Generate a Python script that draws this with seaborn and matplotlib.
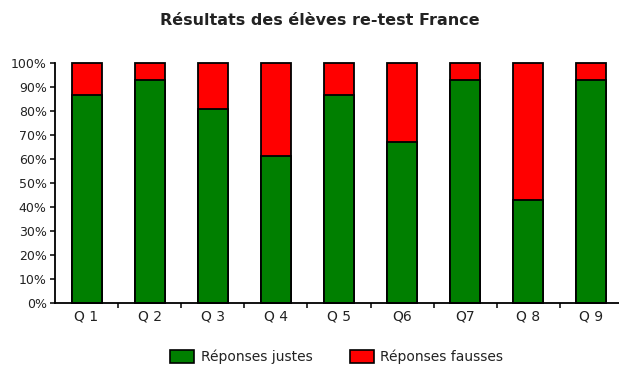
import matplotlib
matplotlib.use("Agg")
import matplotlib.pyplot as plt
from matplotlib.patches import Patch
from matplotlib.ticker import FixedLocator, PercentFormatter
import pandas as pd
import seaborn as sns

# Share of correct / wrong answers per question (%)
questions = ["Q 1", "Q 2", "Q 3", "Q 4", "Q 5", "Q6", "Q7", "Q 8", "Q 9"]
justes = [86.7, 92.9, 80.7, 61.3, 86.7, 67.2, 92.9, 42.9, 92.9]
fausses = [13.3, 7.1, 19.3, 38.7, 13.3, 32.8, 7.1, 57.1, 7.1]

GREEN = "#007F00"
RED = "#FF0000"

sns.set_theme(style="white")
plt.rcParams["font.family"] = ["DejaVu Sans"]
plt.rcParams["text.color"] = "#222222"

df = pd.DataFrame({"question": questions, "justes": justes, "fausses": fausses})
df["total"] = df["justes"] + df["fausses"]

fig = plt.figure(figsize=(6.19, 3.65), dpi=100)
ax = fig.add_axes([55 / 619, 62 / 365, 568 / 619, 240 / 365])

# stacked bars: full height in red, correct share drawn over it in green
sns.barplot(data=df, x="question", y="total", color=RED, width=0.475,
            edgecolor="black", linewidth=1.3, saturation=1, ax=ax)
sns.barplot(data=df, x="question", y="justes", color=GREEN, width=0.475,
            edgecolor="black", linewidth=1.3, saturation=1, ax=ax)
for p in ax.patches:
    p.set_clip_on(False)

ax.set_ylim(0, 100)
ax.set_xlim(-0.5, len(questions) - 0.5)
ax.yaxis.set_major_locator(FixedLocator(range(0, 101, 10)))
ax.yaxis.set_major_formatter(PercentFormatter(decimals=0))
ax.xaxis.set_minor_locator(FixedLocator([i + 0.5 for i in range(len(questions) - 1)]))

for side in ("top", "right"):
    ax.spines[side].set_visible(False)
for side in ("left", "bottom"):
    ax.spines[side].set_color("black")
    ax.spines[side].set_linewidth(1.3)

ax.tick_params(axis="y", which="major", direction="out", length=3.5, width=1.1,
               color="black", labelsize=9, pad=2.5, left=True, labelcolor="#222222")
ax.tick_params(axis="x", which="major", length=0, labelsize=10, pad=5,
               labelcolor="#222222")
ax.tick_params(axis="x", which="minor", direction="out", length=3.5, width=1.1,
               color="black", bottom=True)
ax.set_xlabel("")
ax.set_ylabel("")

fig.text(0.517, 0.945, "Résultats des élèves re-test France", ha="center",
         va="center", fontsize=11.5, fontweight="bold")

handles = [Patch(facecolor=GREEN, edgecolor="black", linewidth=1.2, label="Réponses justes"),
           Patch(facecolor=RED, edgecolor="black", linewidth=1.2, label="Réponses fausses")]
fig.legend(handles=handles, loc="center", bbox_to_anchor=(0.544, 0.022), ncol=2,
           frameon=False, fontsize=10, handlelength=1.75, handleheight=1.0,
           handletextpad=0.45, columnspacing=2.7, borderpad=0)

fig.savefig("out.png", dpi=100, facecolor="white")
